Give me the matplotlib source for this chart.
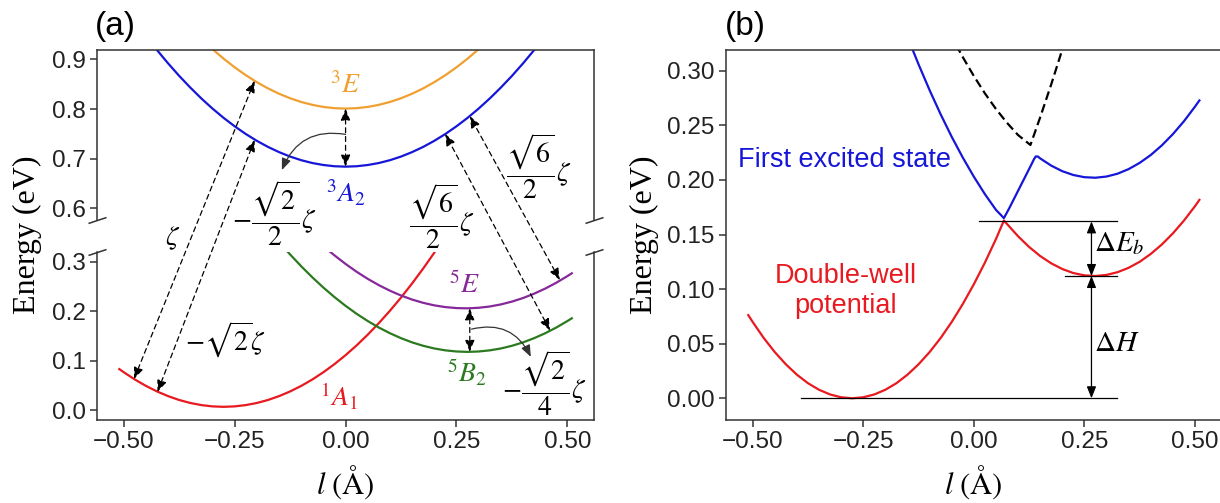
import matplotlib
matplotlib.use("Agg")
import matplotlib.pyplot as plt
from matplotlib.patches import ConnectionPatch

plt.rcParams['font.family'] = ['Liberation Sans', 'DejaVu Sans']
plt.rcParams['mathtext.fontset'] = 'stix'

# ---------------- panel (a) : diabatic curves ----------------
a1_l = [-0.51, -0.50, -0.475, -0.45, -0.425, -0.40, -0.375, -0.35, -0.325, -0.30, -0.275,
        -0.25, -0.225, -0.20, -0.175, -0.15, -0.125, -0.10, -0.075, -0.05, -0.025, 0.00,
        0.025, 0.05, 0.075, 0.10, 0.125, 0.15, 0.175, 0.20]
a1_E = [0.0832, 0.0769, 0.0622, 0.0493, 0.0381, 0.0286, 0.0208, 0.0148, 0.0105, 0.0079, 0.0070,
        0.0079, 0.0105, 0.0148, 0.0208, 0.0286, 0.0381, 0.0493, 0.0622, 0.0769, 0.0933, 0.1114,
        0.1312, 0.1528, 0.1761, 0.2011, 0.2278, 0.2563, 0.2865, 0.3184]

b2_l = [-0.13, -0.125, -0.10, -0.075, -0.05, -0.025, 0.00, 0.025, 0.05, 0.075, 0.10, 0.125,
        0.15, 0.175, 0.20, 0.225, 0.25, 0.275, 0.30, 0.325, 0.35, 0.375, 0.40, 0.425, 0.45,
        0.475, 0.50, 0.51]
b2_E = [0.3198, 0.3148, 0.2910, 0.2687, 0.2479, 0.2287, 0.2110, 0.1949, 0.1803, 0.1672, 0.1557,
        0.1457, 0.1372, 0.1303, 0.1249, 0.1211, 0.1188, 0.1180, 0.1188, 0.1211, 0.1249, 0.1303,
        0.1372, 0.1457, 0.1557, 0.1672, 0.1803, 0.1859]

e5_l = [-0.035, -0.025, 0.00, 0.025, 0.05, 0.075, 0.10, 0.125, 0.15, 0.175, 0.20, 0.225, 0.25,
        0.275, 0.30, 0.325, 0.35, 0.375, 0.40, 0.425, 0.45, 0.475, 0.50, 0.51]
e5_E = [0.3204, 0.3130, 0.2957, 0.2798, 0.2655, 0.2528, 0.2416, 0.2319, 0.2237, 0.2171, 0.2120,
        0.2085, 0.2065, 0.2060, 0.2071, 0.2097, 0.2139, 0.2196, 0.2268, 0.2356, 0.2459, 0.2577,
        0.2711, 0.2768]

a2_l = [-0.45, -0.425, -0.40, -0.375, -0.35, -0.325, -0.30, -0.275, -0.25, -0.225, -0.20,
        -0.175, -0.15, -0.125, -0.10, -0.075, -0.05, -0.025, 0.00, 0.025, 0.05, 0.075, 0.10,
        0.125, 0.15, 0.175, 0.20, 0.225, 0.25, 0.275, 0.30, 0.325, 0.35, 0.375, 0.40, 0.425, 0.45]
a2_E = [0.9473, 0.9188, 0.8920, 0.8668, 0.8433, 0.8213, 0.8010, 0.7823, 0.7653, 0.7498, 0.7360,
        0.7238, 0.7133, 0.7043, 0.6970, 0.6913, 0.6873, 0.6848, 0.6840, 0.6848, 0.6873, 0.6913,
        0.6970, 0.7043, 0.7133, 0.7238, 0.7360, 0.7498, 0.7653, 0.7823, 0.8010, 0.8213, 0.8433,
        0.8668, 0.8920, 0.9188, 0.9473]

e3_l = [-0.35, -0.325, -0.30, -0.275, -0.25, -0.225, -0.20, -0.175, -0.15, -0.125, -0.10,
        -0.075, -0.05, -0.025, 0.00, 0.025, 0.05, 0.075, 0.10, 0.125, 0.15, 0.175, 0.20,
        0.225, 0.25, 0.275, 0.30, 0.325, 0.35]
e3_E = [0.9639, 0.9415, 0.9207, 0.9016, 0.8841, 0.8683, 0.8542, 0.8417, 0.8309, 0.8218, 0.8143,
        0.8085, 0.8043, 0.8018, 0.8010, 0.8018, 0.8043, 0.8085, 0.8143, 0.8218, 0.8309, 0.8417,
        0.8542, 0.8683, 0.8841, 0.9016, 0.9207, 0.9415, 0.9639]

# spin-orbit coupling arrows: (l, E) on lower curve -> (l, E) on upper curve
soc_low = [(-0.477, 0.063), (-0.424, 0.037), (0.461, 0.161), (0.483, 0.263)]
soc_up = [(-0.205, 0.857), (-0.205, 0.738), (0.2246, 0.750), (0.280, 0.786)]

# ---------------- panel (b) : adiabatic curves ----------------
gs_l = [-0.51, -0.50, -0.475, -0.45, -0.425, -0.40, -0.375, -0.35, -0.325, -0.30, -0.275,
        -0.25, -0.225, -0.20, -0.175, -0.15, -0.125, -0.10, -0.075, -0.05, -0.025, 0.00,
        0.025, 0.05, 0.068, 0.075, 0.10, 0.125, 0.15, 0.175, 0.20, 0.225, 0.25, 0.275, 0.30,
        0.325, 0.35, 0.375, 0.40, 0.425, 0.45, 0.475, 0.50, 0.51]
gs_E = [0.0762, 0.0699, 0.0552, 0.0423, 0.0311, 0.0216, 0.0138, 0.0078, 0.0035, 0.0009, 0.0000,
        0.0009, 0.0035, 0.0078, 0.0138, 0.0216, 0.0311, 0.0423, 0.0552, 0.0699, 0.0863, 0.1044,
        0.1242, 0.1458, 0.1628, 0.1597, 0.1484, 0.1386, 0.1303, 0.1236, 0.1184, 0.1147, 0.1126,
        0.1120, 0.1130, 0.1155, 0.1195, 0.1250, 0.1322, 0.1408, 0.1510, 0.1627, 0.1759, 0.1817]

ex_l = [-0.16, -0.15, -0.125, -0.10, -0.075, -0.05, -0.025, 0.00, 0.025, 0.05, 0.068, 0.08,
        0.09, 0.10, 0.11, 0.12, 0.13, 0.136, 0.14, 0.145, 0.15, 0.175, 0.20, 0.225, 0.25,
        0.275, 0.30, 0.325, 0.35, 0.375, 0.40, 0.425, 0.45, 0.475, 0.50, 0.51]
ex_E = [0.3416, 0.3310, 0.3059, 0.2822, 0.2601, 0.2395, 0.2205, 0.2030, 0.1870, 0.1726, 0.1650,
        0.1740, 0.1820, 0.1900, 0.1980, 0.2060, 0.2140, 0.2190, 0.2215, 0.2214, 0.2197, 0.2131,
        0.2080, 0.2045, 0.2025, 0.2020, 0.2031, 0.2057, 0.2099, 0.2156, 0.2228, 0.2316, 0.2419,
        0.2537, 0.2671, 0.2728]

ex2_l = [-0.04, -0.025, 0.00, 0.025, 0.05, 0.075, 0.10, 0.128, 0.15, 0.175, 0.20, 0.21]
ex2_E = [0.3237, 0.3125, 0.2952, 0.2793, 0.2650, 0.2523, 0.2411, 0.2320, 0.2573, 0.2875,
         0.3194, 0.3326]

barrier_top = 0.162
well_right = 0.112
well_left = 0.0

RED = '#e8191f'
BLUE = '#1616d8'
ORANGE = '#f0a030'
GREEN = '#2c7a1f'
PURPLE = '#86289a'
GREY = '#333333'

W, H = 1220, 503
fig = plt.figure(figsize=(W / 100, H / 100), dpi=100)


def box(l, t, r, b):
    return [l / W, 1 - b / H, (r - l) / W, (b - t) / H]


ax_up = fig.add_axes(box(96.7, 50, 594, 220))
ax_lo = fig.add_axes(box(96.7, 252, 594, 420))
ax_b = fig.add_axes(box(725.7, 50, 1221.5, 420))

for ax in (ax_up, ax_lo, ax_b):
    ax.set_xlim(-0.561, 0.56)
    for s in ax.spines.values():
        s.set_color(GREY)
        s.set_linewidth(1.1)
    ax.tick_params(labelsize=17.5, length=5, width=1.1, color=GREY,
                   labelcolor='#222222', pad=3)
    ax.set_xticks([-0.5, -0.25, 0, 0.25, 0.5])

ax_up.set_ylim(0.5765, 0.919)
ax_lo.set_ylim(-0.0196, 0.3198)
ax_b.set_ylim(-0.0199, 0.319)
ax_up.set_yticks([0.6, 0.7, 0.8, 0.9])
ax_lo.set_yticks([0.0, 0.1, 0.2, 0.3])
b_ticks = [0.0, 0.05, 0.10, 0.15, 0.20, 0.25, 0.30]
ax_b.set_yticks(b_ticks)
ax_b.set_yticklabels(['%.2f' % v for v in b_ticks])

ax_up.spines['bottom'].set_visible(False)
ax_up.tick_params(axis='x', bottom=False, labelbottom=False)
ax_lo.spines['top'].set_visible(False)

# break marks
kw = dict(marker=[(-1, -0.33), (1, 0.33)], markersize=13, linestyle='none',
          color=GREY, mec=GREY, mew=1.1, clip_on=False)
ax_up.plot([0, 1], [0, 0], transform=ax_up.transAxes, **kw)
ax_lo.plot([0, 1], [1, 1], transform=ax_lo.transAxes, **kw)

lw = 1.6
ax_lo.plot(a1_l, a1_E, color=RED, lw=lw)
ax_lo.plot(b2_l, b2_E, color=GREEN, lw=lw)
ax_lo.plot(e5_l, e5_E, color=PURPLE, lw=lw)
ax_up.plot(a2_l, a2_E, color=BLUE, lw=lw)
ax_up.plot(e3_l, e3_E, color=ORANGE, lw=lw)

# dashed coupling arrows between the two halves
for p_lo, p_up in zip(soc_low, soc_up):
    con = ConnectionPatch(xyA=p_lo, coordsA=ax_lo.transData, xyB=p_up, coordsB=ax_up.transData,
                          arrowstyle='<|-|>,head_length=0.5,head_width=0.2', mutation_scale=14,
                          linestyle=(0, (4, 3)), lw=0.9, color='black', shrinkA=0, shrinkB=0)
    fig.add_artist(con)

dash_kw = dict(arrowstyle='<|-|>,head_length=0.5,head_width=0.2', mutation_scale=14,
               linestyle=(0, (4, 3)), lw=0.9, color='black', shrinkA=0, shrinkB=0)
ax_up.annotate('', xy=(0.0, 0.684), xytext=(0.0, 0.801), arrowprops=dash_kw)
ax_lo.annotate('', xy=(0.28, 0.118), xytext=(0.28, 0.206), arrowprops=dash_kw)

curve_kw = dict(arrowstyle='-|>,head_length=0.5,head_width=0.2', mutation_scale=14,
                lw=0.9, color=GREY, shrinkA=0, shrinkB=0)
ax_up.annotate('', xy=(-0.1436, 0.677), xytext=(0.0, 0.749),
               arrowprops=dict(connectionstyle='arc3,rad=0.4', **curve_kw))
ax_lo.annotate('', xy=(0.4176, 0.108), xytext=(0.284, 0.164),
               arrowprops=dict(connectionstyle='arc3,rad=-0.4', **curve_kw))

# state labels
fs = 20
ax_up.text(0.0, 0.848, r'$^3E$', color=ORANGE, fontsize=fs, ha='center', va='center')
ax_up.text(0.0, 0.631, r'$^3A_2$', color=BLUE, fontsize=fs, ha='center', va='center', clip_on=False)
ax_lo.text(0.268, 0.253, r'$^5E$', color=PURPLE, fontsize=fs, ha='center', va='center')
ax_lo.text(0.273, 0.075, r'$^5B_2$', color=GREEN, fontsize=fs, ha='center', va='center')
ax_lo.text(-0.016, 0.027, r'$^1A_1$', color=RED, fontsize=fs, ha='center', va='center')

# coupling constants
ax_up.text(-0.39, 0.54, r'$\zeta$', fontsize=fs, ha='center', va='center', clip_on=False)
ax_lo.text(-0.27, 0.142, r'$-\sqrt{2}\zeta$', fontsize=fs, ha='center', va='center')
ax_up.text(-0.16, 0.59, r'$-\dfrac{\sqrt{2}}{2}\zeta$', fontsize=fs, ha='center', va='center',
           clip_on=False)
ax_up.text(0.216, 0.583, r'$\dfrac{\sqrt{6}}{2}\zeta$', fontsize=fs, ha='center', va='center',
           clip_on=False)
ax_up.text(0.435, 0.684, r'$\dfrac{\sqrt{6}}{2}\zeta$', fontsize=fs, ha='center', va='center')
ax_lo.text(0.448, 0.055, r'$-\dfrac{\sqrt{2}}{4}\zeta$', fontsize=fs, ha='center', va='center',
           clip_on=False)

# ---------------- panel (b) ----------------
ax_b.plot(gs_l, gs_E, color=RED, lw=lw)
ax_b.plot(ex_l, ex_E, color=BLUE, lw=lw)
ax_b.plot(ex2_l, ex2_E, color='black', lw=lw, linestyle=(0, (4, 2)))

ax_b.plot([0.0126, 0.3235], [barrier_top, barrier_top], color='black', lw=0.9)
ax_b.plot([0.207, 0.3235], [well_right, well_right], color='black', lw=0.9)
ax_b.plot([-0.391, 0.3235], [well_left, well_left], color='black', lw=0.9)

arr_kw = dict(arrowstyle='<|-|>,head_length=0.5,head_width=0.2', mutation_scale=14,
              lw=0.9, color='black', shrinkA=0, shrinkB=0)
ax_b.annotate('', xy=(0.266, barrier_top), xytext=(0.266, well_right), arrowprops=arr_kw)
ax_b.annotate('', xy=(0.266, well_right), xytext=(0.266, well_left), arrowprops=arr_kw)
ax_b.text(0.272, 0.142, r'$\Delta E_b$', fontsize=21, ha='left', va='center')
ax_b.text(0.272, 0.051, r'$\Delta H$', fontsize=21, ha='left', va='center')

ax_b.text(-0.534, 0.2184, 'First excited state', color=BLUE, fontsize=19.5, ha='left', va='center')
ax_b.text(-0.29, 0.098, 'Double-well\npotential', color=RED, fontsize=19.5, ha='center',
          va='center', linespacing=1.2)

# axis labels
for ax in (ax_lo, ax_b):
    ax.set_xlabel(r'$l\ (\mathrm{\AA})$', fontsize=22, labelpad=7)
ylab_kw = dict(fontsize=23, family='Liberation Serif')
fig.text(27 / W, 1 - 235 / H, 'Energy (eV)', rotation=90, ha='center', va='center', **ylab_kw)
ax_b.set_ylabel('Energy (eV)', labelpad=6, **ylab_kw)

fig.text(95 / W, 1 - 27 / H, '(a)', fontsize=24, ha='left', va='center')
fig.text(725 / W, 1 - 27 / H, '(b)', fontsize=24, ha='left', va='center')

fig.savefig('out.png', dpi=100)
